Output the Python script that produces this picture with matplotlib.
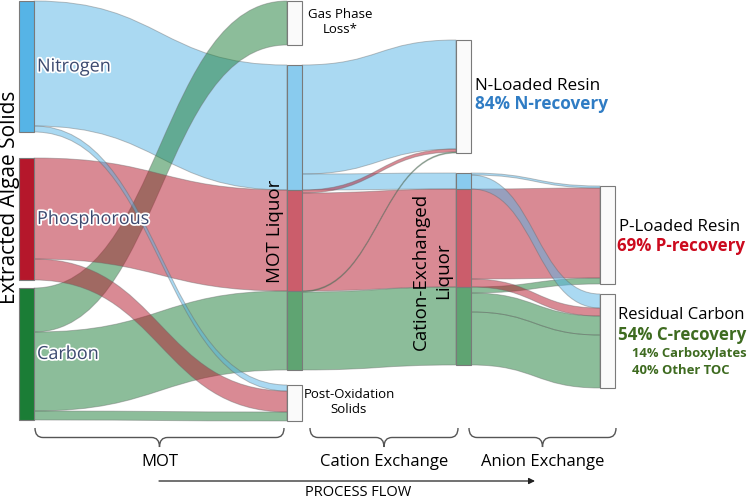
import numpy as np
import matplotlib.pyplot as plt
from matplotlib.patches import Rectangle, PathPatch, FancyArrowPatch
from matplotlib.path import Path
import matplotlib.patheffects as pe
from matplotlib.colors import to_rgb

plt.rcParams['font.family'] = ['Open Sans', 'DejaVu Sans']

# nodes of the diagram (column 0 -> 3)
node_names = ['Nitrogen', 'Phosphorous', 'Carbon',
              'Gas Phase Loss', 'MOT N', 'MOT P', 'MOT C', 'Post-Oxidation Solids',
              'N-Loaded Resin', 'CEL N', 'CEL P', 'CEL C',
              'P-Loaded Resin', 'Residual Carbon']
node_column = [0, 0, 0, 1, 1, 1, 1, 1, 2, 2, 2, 2, 3, 3]
node_element = ['N', 'P', 'C', None, 'N', 'P', 'C', None, None, 'N', 'P', 'C', None, None]

# links, in drawing order
link_source = ['Nitrogen', 'Carbon', 'Carbon', 'Carbon', 'Phosphorous', 'Phosphorous', 'Nitrogen',
               'MOT N', 'MOT N', 'MOT P', 'MOT P', 'MOT C', 'MOT C',
               'CEL C', 'CEL C', 'CEL C', 'CEL P', 'CEL P', 'CEL N', 'CEL N']
link_target = ['MOT N', 'Gas Phase Loss', 'MOT C', 'Post-Oxidation Solids', 'MOT P',
               'Post-Oxidation Solids', 'Post-Oxidation Solids',
               'N-Loaded Resin', 'CEL N', 'N-Loaded Resin', 'CEL P', 'N-Loaded Resin', 'CEL C',
               'P-Loaded Resin', 'Residual Carbon', 'Residual Carbon', 'P-Loaded Resin',
               'Residual Carbon', 'P-Loaded Resin', 'Residual Carbon']
link_value = [125, 44, 79, 9, 101, 21, 6,
              109, 16, 3, 98, 1, 78,
              6, 19, 53, 90, 8, 2, 14]
link_element = ['N', 'C', 'C', 'C', 'P', 'P', 'N',
                'N', 'N', 'P', 'P', 'C', 'C',
                'C', 'C', 'C', 'P', 'P', 'N', 'N']

# layout: column left edges (px), node width, space above each node (flow units = px)
col_x = [19, 287, 456, 600]
node_w = 15
node_gap = [1, 26, 8, 1, 20, 0, 0, 15, 40, 20, 0, 0, 186, 10]

colors = {'N': '#56b4e6', 'P': '#b5172b', 'C': '#1b7d36'}


def tint(c, a):
    r = np.array(to_rgb(c))
    return tuple(1 - a * (1 - r))


def sankey_layout():
    inflow = {n: 0 for n in node_names}
    outflow = {n: 0 for n in node_names}
    for s, t, v in zip(link_source, link_target, link_value):
        outflow[s] += v
        inflow[t] += v
    top, height = {}, {}
    y = {c: 0 for c in range(4)}
    for n, c, g in zip(node_names, node_column, node_gap):
        h = max(inflow[n], outflow[n])
        top[n] = y[c] + g
        height[n] = h
        y[c] = top[n] + h
    return top, height


def band(ax, x0, y0a, y0b, x1, y1a, y1b, color):
    xm = (x0 + x1) / 2
    verts = [(x0, y0a), (xm, y0a), (xm, y1a), (x1, y1a),
             (x1, y1b), (xm, y1b), (xm, y0b), (x0, y0b), (x0, y0a)]
    codes = [Path.MOVETO, Path.CURVE4, Path.CURVE4, Path.CURVE4,
             Path.LINETO, Path.CURVE4, Path.CURVE4, Path.CURVE4, Path.CLOSEPOLY]
    ax.add_patch(PathPatch(Path(verts, codes), facecolor=to_rgb(color) + (0.5,),
                           edgecolor=(0.4, 0.4, 0.4, 0.4), lw=0.7, zorder=2))


def brace(ax, x0, x1, y0, depth, r=8):
    xc = (x0 + x1) / 2
    ym = y0 + depth / 2
    yt = y0 + depth
    verts = [(x0, y0), (x0, ym), (x0 + r, ym), (xc - r, ym), (xc, ym), (xc, yt),
             (xc, ym), (xc + r, ym), (x1 - r, ym), (x1, ym), (x1, y0)]
    codes = [Path.MOVETO, Path.CURVE3, Path.CURVE3, Path.LINETO, Path.CURVE3, Path.CURVE3,
             Path.CURVE3, Path.CURVE3, Path.LINETO, Path.CURVE3, Path.CURVE3]
    ax.add_patch(PathPatch(Path(verts, codes), facecolor='none', edgecolor='#555555', lw=1.0))
    return xc


top, height = sankey_layout()

fig = plt.figure(figsize=(7.5, 4.99), dpi=100)
ax = fig.add_axes([0, 0, 1, 1])
ax.set_xlim(0, 750)
ax.set_ylim(499, 0)
ax.axis('off')

# port offsets: outflows ordered by target position, inflows by source position
col_of = dict(zip(node_names, node_column))
out_off, in_off = {}, {}
for n in node_names:
    outs = [i for i, s in enumerate(link_source) if s == n]
    outs.sort(key=lambda i: top[link_target[i]])
    y = top[n]
    for i in outs:
        out_off[i] = y
        y += link_value[i]
    ins = [i for i, t in enumerate(link_target) if t == n]
    ins.sort(key=lambda i: top[link_source[i]])
    y = top[n]
    for i in ins:
        in_off[i] = y
        y += link_value[i]

for i, (s, t, v, e) in enumerate(zip(link_source, link_target, link_value, link_element)):
    x0 = col_x[col_of[s]] + node_w
    x1 = col_x[col_of[t]]
    band(ax, x0, out_off[i], out_off[i] + v, x1, in_off[i], in_off[i] + v, colors[e])

for n, c, e in zip(node_names, node_column, node_element):
    if e is None:
        fc = '#fafafa'
    elif c == 0:
        fc = colors[e]
    else:
        fc = tint(colors[e], 0.7)
    ax.add_patch(Rectangle((col_x[c], top[n]), node_w, height[n], facecolor=fc,
                           edgecolor='#7a7a7a', lw=0.8, zorder=3))

# source labels
halo = [pe.withStroke(linewidth=2.5, foreground='white')]
for n in ['Nitrogen', 'Phosphorous', 'Carbon']:
    ax.text(col_x[0] + node_w + 3, top[n] + height[n] / 2, n, fontsize=13, color='#3c4a70',
            ha='left', va='center', path_effects=halo, zorder=5)

ax.text(15, 197, 'Extracted Algae Solids', rotation=90, rotation_mode='anchor',
        fontsize=15, ha='center', va='baseline')
ax.text(col_x[1] - 12, 231, 'MOT Liquor', rotation=90, fontsize=13.5, ha='center', va='center',
        zorder=5)
ax.text(col_x[2] - 24, 271, 'Cation-Exchanged\nLiquor', rotation=90, fontsize=13.5,
        ha='center', va='center', multialignment='center', linespacing=1.35, zorder=5)

ax.text(340, 22, 'Gas Phase\nLoss*', fontsize=9.5, ha='center', va='center', linespacing=1.15)
ax.text(349, 402, 'Post-Oxidation\nSolids', fontsize=9.5, ha='center', va='center',
        linespacing=1.15)

ax.text(475, 86, 'N-Loaded Resin', fontsize=12.3, ha='left', va='center')
ax.text(475, 104, '84% N-recovery', fontsize=12.3, ha='left', va='center', color='#2f7cc4',
        fontweight='bold')
ax.text(619, 227, 'P-Loaded Resin', fontsize=12.2, ha='left', va='center')
ax.text(617, 246, '69% P-recovery', fontsize=12.2, ha='left', va='center', color='#cc0a1e',
        fontweight='bold')
ax.text(618, 315, 'Residual Carbon', fontsize=12, ha='left', va='center')
ax.text(618, 335, '54% C-recovery', fontsize=12.2, ha='left', va='center', color='#3e6b20',
        fontweight='bold')
ax.text(632, 353, '14% Carboxylates', fontsize=9.4, ha='left', va='center', color='#3e6b20',
        fontweight='bold')
ax.text(632, 370, '40% Other TOC', fontsize=9.4, ha='left', va='center', color='#3e6b20',
        fontweight='bold')

# process stage braces
stages = [('MOT', 35, 284), ('Cation Exchange', 310, 458), ('Anion Exchange', 469, 616)]
for label, xa, xb in stages:
    xc = brace(ax, xa, xb, 428, 19)
    ax.text(xc, 462, label, fontsize=12, ha='center', va='center')

ax.add_patch(FancyArrowPatch((159, 481), (535, 481), arrowstyle='-|>', mutation_scale=9,
                             color='#222222', lw=0.9, shrinkA=0, shrinkB=0))
ax.text(358, 493, 'PROCESS FLOW', fontsize=10.5, ha='center', va='center')

fig.savefig('out.png', dpi=100)
